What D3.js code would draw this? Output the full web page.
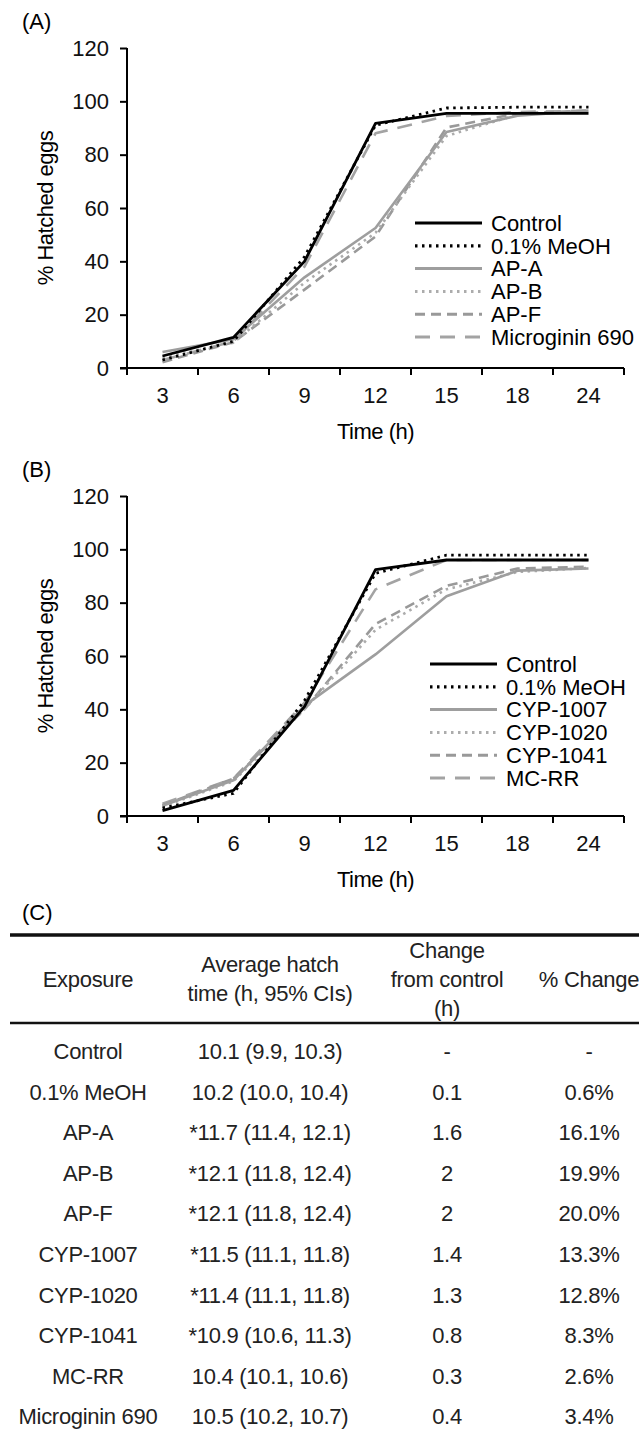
<!DOCTYPE html>
<html>
<head>
<meta charset="utf-8">
<script src="https://cdn.jsdelivr.net/npm/d3@7/dist/d3.min.js"></script>
<style>
  body { margin: 0; background: #fff; }
  svg { display: block; font-family: Arial, 'Liberation Sans', sans-serif; }
</style>
</head>
<body>
<svg id="root" width="639" height="1432"></svg>
<script>
/* global d3 */

const times = ['3', '6', '9', '12', '15', '18', '24']
const yTicks = [0, 20, 40, 60, 80, 100, 120]

// panel A
const namesA = ['Control', '0.1% MeOH', 'AP-A', 'AP-B', 'AP-F', 'Microginin 690']
const controlA = [4.5, 11.5, 40, 91.7, 95.5, 95.5, 95.5]
const meohA = [3, 10, 41.7, 91, 97.5, 97.8, 97.8]
const apA = [6, 10.8, 34, 52.5, 88.5, 94.6, 96.5]
const apB = [4, 9.5, 32, 50.7, 87, 95, 96.5]
const apF = [2.2, 9.7, 29.4, 49.3, 90.2, 95.5, 96.5]
const microginin690 = [3, 10, 38, 88, 94.5, 96, 96.5]

// panel B
const namesB = ['Control', '0.1% MeOH', 'CYP-1007', 'CYP-1020', 'CYP-1041', 'MC-RR']
const controlB = [2, 9.6, 41, 92.4, 96, 96, 96]
const meohB = [3, 8.5, 43.3, 91, 97.8, 97.8, 97.8]
const cyp1007 = [3.8, 13.4, 41.4, 60.6, 82.4, 92, 92.8]
const cyp1020 = [3.5, 13, 40, 69.8, 85, 91.5, 93]
const cyp1041 = [4, 14, 40, 72, 86.3, 92.8, 93.5]
const mcRR = [4.6, 14, 42.5, 85, 96, 96, 96]

// panel C
const headers = [['Exposure'], ['Average hatch', 'time (h, 95% CIs)'], ['Change', 'from control', '(h)'], ['% Change']]
const exposures = ['Control', '0.1% MeOH', 'AP-A', 'AP-B', 'AP-F', 'CYP-1007', 'CYP-1020', 'CYP-1041', 'MC-RR', 'Microginin 690']
const hatchTimes = ['10.1 (9.9, 10.3)', '10.2 (10.0, 10.4)', '*11.7 (11.4, 12.1)', '*12.1 (11.8, 12.4)', '*12.1 (11.8, 12.4)',
  '*11.5 (11.1, 11.8)', '*11.4 (11.1, 11.8)', '*10.9 (10.6, 11.3)', '10.4 (10.1, 10.6)', '10.5 (10.2, 10.7)']
const changes = ['-', '0.1', '1.6', '2', '2', '1.4', '1.3', '0.8', '0.3', '0.4']
const pctChanges = ['-', '0.6%', '16.1%', '19.9%', '20.0%', '13.3%', '12.8%', '8.3%', '2.6%', '3.4%']

// line styles, same order in both panels
const styles = [
  { color: '#000', width: 2.8, dash: null },
  { color: '#000', width: 2.8, dash: '2.5 4.5' },
  { color: '#9e9e9e', width: 2.6, dash: null },
  { color: '#acacac', width: 2.6, dash: '2.5 4.5' },
  { color: '#999', width: 2.6, dash: '10 6' },
  { color: '#a3a3a3', width: 2.6, dash: '15 10' }
]

const svg = d3.select('#root')
const fontSize = 22

function drawPanel (label, top, names, series, legendX, legendY) {
  const height = 320
  const left = 127
  const right = 624

  const x = d3.scaleBand().domain(times).range([left, right])
  const y = d3.scaleLinear().domain([0, 120]).range([top + height, top])

  const g = svg.append('g')

  g.append('text')
    .attr('x', 22).attr('y', top - 27)
    .attr('dy', '0.35em')
    .style('font-size', fontSize + 'px')
    .text(label)

  // y axis
  const yAxis = g.append('g')
    .attr('transform', 'translate(' + left + ',0)')
    .call(d3.axisLeft(y).tickValues(yTicks).tickSize(7).tickPadding(11))
  yAxis.select('.domain').attr('stroke-width', 2).attr('d', 'M0,' + y(120) + 'V' + y(0))
  yAxis.selectAll('.tick line').attr('stroke-width', 2)
  yAxis.selectAll('text').style('font-size', fontSize + 'px').attr('fill', '#111')

  // x axis: labels in band centres, tick marks on band edges
  const xAxis = g.append('g')
    .attr('transform', 'translate(0,' + y(0) + ')')
    .call(d3.axisBottom(x).tickSize(0).tickPadding(19))
  xAxis.select('.domain').attr('stroke-width', 2).attr('d', 'M' + (left - 7) + ',0H' + right)
  xAxis.selectAll('text').style('font-size', fontSize + 'px').attr('fill', '#111')
  xAxis.selectAll('.edge')
    .data(times.map(t => x(t)).concat([right]))
    .enter().append('line')
    .attr('class', 'edge')
    .attr('x1', d => d).attr('x2', d => d)
    .attr('y1', 0).attr('y2', 7)
    .attr('stroke', '#000').attr('stroke-width', 2)

  g.append('text')
    .attr('x', (left + right) / 2).attr('y', y(0) + 63)
    .attr('text-anchor', 'middle').attr('dy', '0.35em')
    .style('font-size', fontSize + 'px')
    .style('letter-spacing', '-0.5px')
    .text('Time (h)')

  g.append('text')
    .attr('transform', 'translate(45,' + (top + height / 2) + ') rotate(-90)')
    .attr('text-anchor', 'middle').attr('dy', '0.35em')
    .style('font-size', fontSize + 'px')
    .style('letter-spacing', '-0.5px')
    .text('% Hatched eggs')

  const line = d3.line()
    .x((d, i) => x(times[i]) + x.bandwidth() / 2)
    .y(d => y(d))

  // draw grey series first, black ones on top
  const order = [5, 4, 3, 2, 0, 1]
  order.forEach(i => {
    g.append('path')
      .datum(series[i])
      .attr('d', line)
      .attr('fill', 'none')
      .attr('stroke', styles[i].color)
      .attr('stroke-width', styles[i].width)
      .attr('stroke-dasharray', styles[i].dash)
      .attr('stroke-linejoin', 'round')
  })

  // legend
  const legend = g.selectAll('.legend')
    .data(names)
    .enter().append('g')
    .attr('class', 'legend')
    .attr('transform', (d, i) => 'translate(' + legendX + ',' + (legendY + i * 22.8) + ')')

  legend.append('line')
    .attr('x1', 0).attr('x2', 67)
    .attr('stroke', (d, i) => styles[i].color)
    .attr('stroke-width', (d, i) => styles[i].width + 0.4)
    .attr('stroke-dasharray', (d, i) => styles[i].dash)

  legend.append('text')
    .attr('x', 76).attr('dy', '0.35em')
    .style('font-size', fontSize + 'px')
    .text(d => d)
}

drawPanel('(A)', 48, namesA, [controlA, meohA, apA, apB, apF, microginin690], 415, 223)
drawPanel('(B)', 496, namesB, [controlB, meohB, cyp1007, cyp1020, cyp1041, mcRR], 430, 664)

// table (C)
const tableFont = 22
const colX = [88, 270, 447, 589]
const headTop = 935
const headRule = 1023

svg.append('text')
  .attr('x', 22).attr('y', 912).attr('dy', '0.35em')
  .style('font-size', fontSize + 'px')
  .text('(C)')

svg.append('line')
  .attr('x1', 10).attr('x2', 639).attr('y1', headTop).attr('y2', headTop)
  .attr('stroke', '#111').attr('stroke-width', 3.5)
svg.append('line')
  .attr('x1', 10).attr('x2', 639).attr('y1', headRule).attr('y2', headRule)
  .attr('stroke', '#111').attr('stroke-width', 2.5)

const headMid = (headTop + headRule) / 2
const headLine = 29
headers.forEach((lines, c) => {
  lines.forEach((t, k) => {
    svg.append('text')
      .attr('x', colX[c])
      .attr('y', headMid + (k - (lines.length - 1) / 2) * headLine)
      .attr('text-anchor', 'middle').attr('dy', '0.35em')
      .style('font-size', tableFont + 'px')
      .style('letter-spacing', '-0.3px')
      .attr('fill', '#222')
      .text(t)
  })
})

const rowY = d3.scaleBand().domain(exposures).range([1031, 1437])
const columns = [exposures, hatchTimes, changes, pctChanges]

columns.forEach((col, c) => {
  svg.selectAll('.col' + c)
    .data(col)
    .enter().append('text')
    .attr('class', 'col' + c)
    .attr('x', colX[c])
    .attr('y', (d, i) => rowY(exposures[i]) + rowY.bandwidth() / 2)
    .attr('text-anchor', 'middle').attr('dy', '0.35em')
    .style('font-size', tableFont + 'px')
    .style('letter-spacing', '-0.3px')
    .attr('fill', '#222')
    .text(d => d)
})
</script>
</body>
</html>
